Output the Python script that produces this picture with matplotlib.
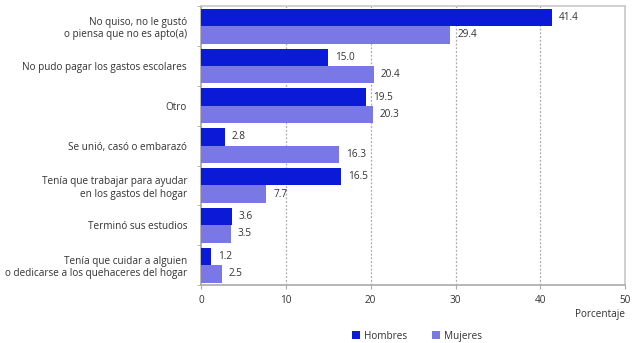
import matplotlib
matplotlib.use("Agg")
import matplotlib.pyplot as plt
import numpy as np

categorias = [
    "No quiso, no le gustó\no piensa que no es apto(a)",
    "No pudo pagar los gastos escolares",
    "Otro",
    "Se unió, casó o embarazó",
    "Tenía que trabajar para ayudar\nen los gastos del hogar",
    "Terminó sus estudios",
    "Tenía que cuidar a alguien\no dedicarse a los quehaceres del hogar",
]
hombres = [41.4, 15.0, 19.5, 2.8, 16.5, 3.6, 1.2]
mujeres = [29.4, 20.4, 20.3, 16.3, 7.7, 3.5, 2.5]
xticks = [0, 10, 20, 30, 40, 50]

plt.rcParams['font.family'] = ['Open Sans', 'DejaVu Sans']
c_h = '#0a1ad6'
c_m = '#7a78e6'
txt = '#333333'

fig = plt.figure(figsize=(6.4, 3.43), dpi=100)
ax = fig.add_axes([0.314, 0.169, 0.663, 0.813])

y = np.arange(len(categorias))
h = 0.4375
ax.barh(y - h / 2, hombres, height=h, color=c_h, label='Hombres', zorder=3)
ax.barh(y + h / 2, mujeres, height=h, color=c_m, label='Mujeres', zorder=3)

for i in range(len(categorias)):
    ax.text(hombres[i] + 0.8, y[i] - h / 2, f"{hombres[i]:.1f}", va='center', ha='left',
            fontsize=7.2, color=txt)
    ax.text(mujeres[i] + 0.8, y[i] + h / 2, f"{mujeres[i]:.1f}", va='center', ha='left',
            fontsize=7.2, color=txt)

ax.set_xlim(0, 50)
ax.set_ylim(len(categorias) - 0.5, -0.5)
ax.set_xticks(xticks)
ax.set_xticklabels([str(t) for t in xticks], fontsize=7.2, color=txt)

# category labels centred, tick marks at group boundaries
ax.set_yticks(y)
ax.set_yticklabels(categorias, fontsize=7.2, color=txt, ha='right', multialignment='right')
ax.tick_params(axis='y', length=0, pad=10)
ax.set_yticks(np.arange(len(categorias) + 1) - 0.5, minor=True)
ax.tick_params(axis='y', which='minor', length=3, color='#aaaaaa')
ax.tick_params(axis='x', length=3, color='#aaaaaa', pad=4)

ax.grid(axis='x', linestyle=(0, (1.5, 1.5)), color='#aaaaaa', linewidth=0.9, zorder=0)
for s in ax.spines.values():
    s.set_color('#c8c8c8')
    s.set_linewidth(1.2)
ax.spines['left'].set_color('#aaaaaa')
ax.spines['bottom'].set_color('#aaaaaa')

fig.text(0.977, 0.082, "Porcentaje", ha='right', va='center', fontsize=7.2, color=txt)
fig.legend(loc='center', bbox_to_anchor=(0.652, 0.02), ncol=2, frameon=False, fontsize=7.2,
           handlelength=0.8, handleheight=0.8, columnspacing=2.5, handletextpad=0.4,
           labelcolor=txt)

fig.savefig("out.png", dpi=100)
